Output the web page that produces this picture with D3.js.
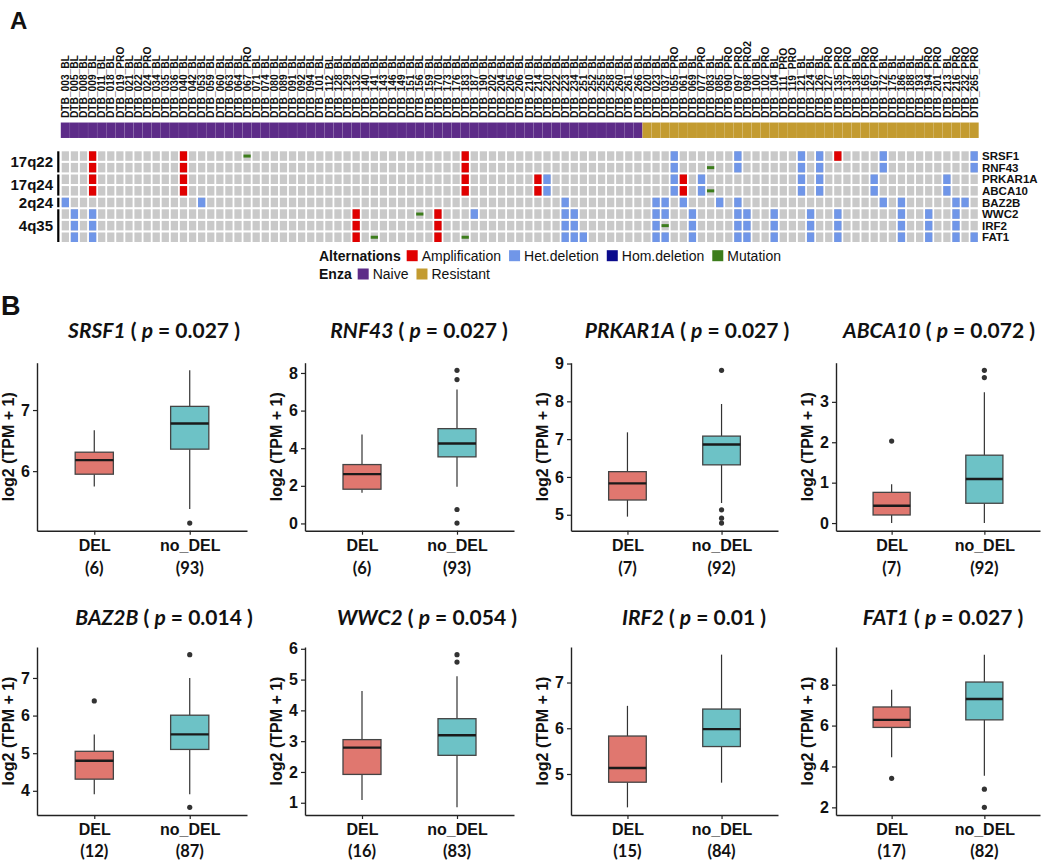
<!DOCTYPE html>
<html>
<head>
<meta charset="utf-8">
<script src="https://cdn.jsdelivr.net/npm/d3@7"></script>
<style>
  body { margin: 0; background: #fff; }
  svg text { font-family: "Liberation Sans", Arial, sans-serif; fill: #111; }
  .ttl, .cnt { font-family: Lato, "Open Sans", sans-serif !important; }
</style>
</head>
<body>
<svg id="fig" width="1050" height="860"></svg>
<script>
// ---- data: oncoprint ----
const naiveSamples = ['DTB_003_BL', 'DTB_005_BL', 'DTB_008_BL', 'DTB_009_BL', 'DTB_011_BL', 'DTB_018_BL', 'DTB_019_PRO',
  'DTB_021_BL', 'DTB_022_BL', 'DTB_024_PRO', 'DTB_034_BL', 'DTB_035_BL', 'DTB_036_BL', 'DTB_040_BL', 'DTB_042_BL',
  'DTB_053_BL', 'DTB_059_BL', 'DTB_060_BL', 'DTB_063_BL', 'DTB_064_BL', 'DTB_067_PRO', 'DTB_071_BL', 'DTB_074_BL',
  'DTB_080_BL', 'DTB_089_BL', 'DTB_091_BL', 'DTB_092_BL', 'DTB_094_BL', 'DTB_101_BL', 'DTB_112_BL', 'DTB_128_BL',
  'DTB_129_BL', 'DTB_132_BL', 'DTB_140_BL', 'DTB_141_BL', 'DTB_143_BL', 'DTB_146_BL', 'DTB_149_BL', 'DTB_151_BL',
  'DTB_156_BL', 'DTB_159_BL', 'DTB_170_BL', 'DTB_173_BL', 'DTB_176_BL', 'DTB_183_BL', 'DTB_187_BL', 'DTB_190_BL',
  'DTB_202_BL', 'DTB_204_BL', 'DTB_205_BL', 'DTB_206_BL', 'DTB_210_BL', 'DTB_214_BL', 'DTB_220_BL', 'DTB_222_BL',
  'DTB_223_BL', 'DTB_234_BL', 'DTB_251_BL', 'DTB_252_BL', 'DTB_255_BL', 'DTB_258_BL', 'DTB_260_BL', 'DTB_261_BL',
  'DTB_266_BL'];
const resistantSamples = ['DTB_020_BL', 'DTB_023_BL', 'DTB_037_BL', 'DTB_055_PRO', 'DTB_061_BL', 'DTB_069_BL',
  'DTB_077_PRO', 'DTB_083_BL', 'DTB_085_BL', 'DTB_090_PRO', 'DTB_097_PRO', 'DTB_098_PRO2', 'DTB_100_BL', 'DTB_102_PRO',
  'DTB_104_BL', 'DTB_111_PRO', 'DTB_119_PRO', 'DTB_121_BL', 'DTB_124_BL', 'DTB_126_BL', 'DTB_127_PRO', 'DTB_135_PRO',
  'DTB_137_PRO', 'DTB_138_BL', 'DTB_165_PRO', 'DTB_167_PRO', 'DTB_172_BL', 'DTB_175_BL', 'DTB_186_BL', 'DTB_188_BL',
  'DTB_193_BL', 'DTB_194_PRO', 'DTB_201_PRO', 'DTB_213_BL', 'DTB_216_PRO', 'DTB_232_PRO', 'DTB_265_PRO'];

const genes = ['SRSF1', 'RNF43', 'PRKAR1A', 'ABCA10', 'BAZ2B', 'WWC2', 'IRF2', 'FAT1'];
const cytobands = [
  ['17q22', ['SRSF1', 'RNF43']],
  ['17q24', ['PRKAR1A', 'ABCA10']],
  ['2q24', ['BAZ2B']],
  ['4q35', ['WWC2', 'IRF2', 'FAT1']],
];

const amplification = [
  ['DTB_009_BL', ['SRSF1', 'RNF43', 'PRKAR1A', 'ABCA10']],
  ['DTB_040_BL', ['SRSF1', 'RNF43', 'PRKAR1A', 'ABCA10']],
  ['DTB_183_BL', ['SRSF1', 'RNF43', 'PRKAR1A', 'ABCA10']],
  ['DTB_214_BL', ['PRKAR1A', 'ABCA10']],
  ['DTB_061_BL', ['PRKAR1A', 'ABCA10']],
  ['DTB_135_PRO', ['SRSF1']],
  ['DTB_132_BL', ['WWC2', 'IRF2', 'FAT1']],
  ['DTB_170_BL', ['WWC2', 'IRF2', 'FAT1']],
];
const hetDeletion = [
  ['DTB_003_BL', ['BAZ2B']],
  ['DTB_053_BL', ['BAZ2B']],
  ['DTB_005_BL', ['WWC2', 'IRF2', 'FAT1']],
  ['DTB_009_BL', ['WWC2', 'IRF2', 'FAT1']],
  ['DTB_187_BL', ['WWC2']],
  ['DTB_220_BL', ['PRKAR1A', 'ABCA10']],
  ['DTB_223_BL', ['BAZ2B', 'WWC2', 'IRF2', 'FAT1']],
  ['DTB_234_BL', ['WWC2', 'IRF2', 'FAT1']],
  ['DTB_251_BL', ['FAT1']],
  ['DTB_023_BL', ['BAZ2B', 'WWC2', 'IRF2', 'FAT1']],
  ['DTB_037_BL', ['BAZ2B', 'WWC2', 'FAT1']],
  ['DTB_055_PRO', ['SRSF1', 'RNF43', 'PRKAR1A', 'ABCA10']],
  ['DTB_061_BL', ['BAZ2B']],
  ['DTB_069_BL', ['WWC2', 'IRF2', 'FAT1']],
  ['DTB_077_PRO', ['PRKAR1A', 'ABCA10']],
  ['DTB_085_BL', ['BAZ2B']],
  ['DTB_097_PRO', ['SRSF1', 'RNF43', 'BAZ2B', 'WWC2', 'IRF2', 'FAT1']],
  ['DTB_098_PRO2', ['WWC2', 'IRF2', 'FAT1']],
  ['DTB_104_BL', ['WWC2', 'IRF2', 'FAT1']],
  ['DTB_121_BL', ['SRSF1', 'RNF43', 'PRKAR1A', 'ABCA10']],
  ['DTB_124_BL', ['WWC2', 'IRF2', 'FAT1']],
  ['DTB_126_BL', ['SRSF1', 'RNF43', 'PRKAR1A', 'ABCA10']],
  ['DTB_135_PRO', ['WWC2', 'IRF2', 'FAT1']],
  ['DTB_167_PRO', ['PRKAR1A', 'ABCA10']],
  ['DTB_172_BL', ['SRSF1', 'RNF43', 'BAZ2B']],
  ['DTB_186_BL', ['BAZ2B', 'WWC2', 'IRF2', 'FAT1']],
  ['DTB_194_PRO', ['WWC2', 'IRF2', 'FAT1']],
  ['DTB_213_BL', ['PRKAR1A', 'ABCA10']],
  ['DTB_216_PRO', ['BAZ2B', 'WWC2', 'IRF2', 'FAT1']],
  ['DTB_232_PRO', ['BAZ2B']],
  ['DTB_265_PRO', ['SRSF1', 'RNF43', 'FAT1']],
];
const homDeletion = [];
const mutation = [
  ['DTB_067_PRO', ['SRSF1']],
  ['DTB_141_BL', ['FAT1']],
  ['DTB_156_BL', ['WWC2']],
  ['DTB_183_BL', ['FAT1']],
  ['DTB_037_BL', ['IRF2']],
  ['DTB_083_BL', ['RNF43', 'ABCA10']],
];

// ---- data: boxplots (min whisker, q1, median, q3, max whisker) ----
const boxGenes = ['SRSF1', 'RNF43', 'PRKAR1A', 'ABCA10', 'BAZ2B', 'WWC2', 'IRF2', 'FAT1'];
const pValues = ['0.027', '0.027', '0.027', '0.072', '0.014', '0.054', '0.01', '0.027'];
const groups = ['DEL', 'no_DEL'];
const delCounts = [6, 6, 7, 7, 12, 16, 15, 17];
const noDelCounts = [93, 93, 92, 92, 87, 83, 84, 82];
const delStats = [
  [5.75, 5.95, 6.18, 6.31, 6.67],
  [1.63, 1.82, 2.62, 3.13, 4.73],
  [4.95, 5.39, 5.83, 6.14, 7.18],
  [0.0, 0.2, 0.43, 0.76, 0.96],
  [3.91, 4.31, 4.80, 5.05, 5.50],
  [1.09, 1.92, 2.79, 3.05, 4.63],
  [4.27, 4.82, 5.13, 5.83, 6.49],
  [4.45, 5.91, 6.28, 6.91, 7.75],
];
const noDelStats = [
  [5.38, 6.36, 6.78, 7.06, 7.65],
  [1.95, 3.54, 4.25, 5.04, 7.12],
  [5.31, 6.32, 6.86, 7.08, 7.93],
  [0.0, 0.49, 1.09, 1.68, 3.24],
  [3.91, 5.10, 5.50, 6.01, 7.00],
  [0.85, 2.54, 3.19, 3.73, 5.11],
  [4.81, 5.60, 5.98, 6.42, 7.61],
  [3.55, 6.28, 7.30, 8.13, 9.47],
];
const delOutliers = [[], [], [], [2.03], [6.39], [], [], [3.42]];
const noDelOutliers = [[5.15], [8.14, 7.65, 0.74, 0.02], [8.82, 5.13, 4.91, 4.78], [3.78, 3.60],
  [7.62, 3.56], [5.81, 5.57], [], [2.89, 2.0]];
const yTicks = [[6, 7], [0, 2, 4, 6, 8], [5, 6, 7, 8, 9], [0, 1, 2, 3], [4, 5, 6, 7], [1, 2, 3, 4, 5, 6],
  [5, 6, 7], [2, 4, 6, 8]];

// ---- colours ----
const altColor = { amp: '#e00000', het: '#7096e8', hom: '#0a0a8c', mut: '#3d7d1c' };
const enzaColor = { Naive: '#5d2c88', Resistant: '#c39b30' };
const groupColor = { DEL: '#e0776f', no_DEL: '#6dc2c6' };

const svg = d3.select('#fig');
const samples = naiveSamples.concat(resistantSamples);

// ================= panel A =================
svg.append('text').attr('x', 10).attr('y', 29).text('A')
  .style('font-size', '24px').style('font-weight', 'bold');

const x = d3.scaleBand().domain(samples).range([61.7, 977.8]).paddingInner(0.2);
const y = d3.scaleBand().domain(genes).range([151.3, 242]).paddingInner(0.18);

// sample labels
svg.append('g').selectAll('text')
  .data(samples)
  .join('text')
  .attr('transform', (d) => `translate(${x(d) + x.bandwidth() / 2},118) rotate(-90)`)
  .attr('dy', '0.36em')
  .style('font-size', '10.2px')
  .style('font-weight', 'bold')
  .text((d) => d);

// Enza bar
svg.append('g').selectAll('rect')
  .data(samples)
  .join('rect')
  .attr('x', (d) => x(d) - x.step() * 0.1)
  .attr('y', 122.5)
  .attr('width', x.step())
  .attr('height', 15.5)
  .attr('fill', (d) => (naiveSamples.includes(d) ? enzaColor.Naive : enzaColor.Resistant))
  .attr('stroke', 'rgba(255,255,255,0.08)')
  .attr('stroke-width', 0.6);

// background cells
const cells = [];
genes.forEach((g) => samples.forEach((s) => cells.push({ g, s })));
const grid = svg.append('g');
grid.selectAll('rect.bg')
  .data(cells)
  .join('rect')
  .attr('class', 'bg')
  .attr('x', (d) => x(d.s))
  .attr('y', (d) => y(d.g))
  .attr('width', x.bandwidth())
  .attr('height', y.bandwidth())
  .attr('fill', '#c9c9c9');

function flatten(list, type) {
  const out = [];
  list.forEach(([s, gs]) => gs.forEach((g) => out.push({ s, g, type })));
  return out;
}
const fullAlts = flatten(amplification, 'amp').concat(flatten(hetDeletion, 'het'), flatten(homDeletion, 'hom'));
grid.selectAll('rect.alt')
  .data(fullAlts)
  .join('rect')
  .attr('class', 'alt')
  .attr('x', (d) => x(d.s))
  .attr('y', (d) => y(d.g))
  .attr('width', x.bandwidth())
  .attr('height', y.bandwidth())
  .attr('fill', (d) => altColor[d.type]);

grid.selectAll('rect.mut')
  .data(flatten(mutation, 'mut'))
  .join('rect')
  .attr('class', 'mut')
  .attr('x', (d) => x(d.s))
  .attr('y', (d) => y(d.g) + y.bandwidth() / 2 - 1.5)
  .attr('width', x.bandwidth())
  .attr('height', 3)
  .attr('fill', altColor.mut);

// gene names at right
svg.append('g').selectAll('text')
  .data(genes)
  .join('text')
  .attr('x', 982)
  .attr('y', (d) => y(d) + y.bandwidth() / 2)
  .attr('dy', '0.36em')
  .style('font-size', '11.5px')
  .style('font-weight', 'bold')
  .text((d) => d);

// cytoband labels and bars
const bandG = svg.append('g');
cytobands.forEach(([band, gs]) => {
  const top = y(gs[0]);
  const bottom = y(gs[gs.length - 1]) + y.bandwidth();
  bandG.append('rect').attr('x', 57.2).attr('y', top).attr('width', 2.2)
    .attr('height', bottom - top).attr('fill', '#000');
  bandG.append('text').attr('x', 53).attr('y', (top + bottom) / 2).attr('dy', '0.36em')
    .attr('text-anchor', 'end').style('font-size', '15px').style('font-weight', 'bold').text(band);
});

// legend
function legendRow(yc, title, items) {
  const g = svg.append('g');
  const t = g.append('text').attr('x', 319).attr('y', yc).attr('dy', '0.36em')
    .style('font-size', '14px').style('font-weight', 'bold').text(title);
  let cx = 319 + t.node().getComputedTextLength() + 6;
  items.forEach(([label, color]) => {
    g.append('rect').attr('x', cx).attr('y', yc - 5.5).attr('width', 11).attr('height', 11).attr('fill', color);
    const lt = g.append('text').attr('x', cx + 15).attr('y', yc).attr('dy', '0.36em')
      .style('font-size', '14px').text(label);
    cx += 15 + lt.node().getComputedTextLength() + 8;
  });
}
legendRow(255.7, 'Alternations', [['Amplification', altColor.amp], ['Het.deletion', altColor.het],
  ['Hom.deletion', altColor.hom], ['Mutation', altColor.mut]]);
legendRow(274, 'Enza', [['Naive', enzaColor.Naive], ['Resistant', enzaColor.Resistant]]);

// ================= panel B =================
svg.append('text').attr('x', 1).attr('y', 315).text('B')
  .style('font-size', '27px').style('font-weight', 'bold');

const colLeft = [37, 305, 571, 836];
const colRight = [247, 514, 778, 1040];
const rowTop = [362.7, 647];
const rowBottom = [530.7, 815];
const titleX = [154, 419, 687, 939, 164, 427, 694, 943];
const titleY = [338, 625];
const countGap = [43.5, 41.5];

boxGenes.forEach((gene, i) => {
  const r = Math.floor(i / 4);
  const c = i % 4;
  const left = colLeft[c];
  const right = colRight[c];
  const top = rowTop[r];
  const bottom = rowBottom[r];
  const g = svg.append('g');

  const all = delStats[i].concat(noDelStats[i], delOutliers[i], noDelOutliers[i]);
  const [lo, hi] = d3.extent(all);
  const pad = (hi - lo) * 0.05;
  const ys = d3.scaleLinear().domain([lo - pad, hi + pad]).range([bottom, top]);
  const xs = d3.scalePoint().domain(groups).range([left, right]).padding(0.6);
  const bw = xs.step() * 0.4;

  // title
  const t = g.append('text').attr('class', 'ttl').attr('x', titleX[i]).attr('y', titleY[r])
    .attr('text-anchor', 'middle').style('font-size', '21px').style('font-weight', 'bold');
  t.append('tspan').style('font-style', 'italic').text(gene);
  t.append('tspan').text(' ( ');
  t.append('tspan').style('font-style', 'italic').text('p');
  t.append('tspan').text(` = ${pValues[i]} )`);

  // axes
  const ya = g.append('g').attr('transform', `translate(${left},0)`)
    .call(d3.axisLeft(ys).tickValues(yTicks[i]).tickFormat(d3.format('d'))
      .tickSize(4).tickSizeOuter(0).tickPadding(3));
  const xa = g.append('g').attr('transform', `translate(0,${bottom})`)
    .call(d3.axisBottom(xs).tickSize(4).tickSizeOuter(0).tickPadding(4));
  [ya, xa].forEach((a) => {
    a.select('.domain').attr('stroke', '#222').attr('stroke-width', 1.4);
    a.selectAll('.tick line').attr('stroke', '#222').attr('stroke-width', 1.2);
    a.selectAll('.tick text').style('font-size', '16px').style('font-weight', 'bold')
      .style('font-family', '"Liberation Sans", Arial, sans-serif').attr('fill', '#111');
  });
  xa.selectAll('.tick text').attr('dy', '0.78em');

  // counts under group labels
  const counts = [delCounts[i], noDelCounts[i]];
  groups.forEach((grp, k) => {
    g.append('text').attr('class', 'cnt').attr('x', xs(grp)).attr('y', bottom + countGap[r])
      .attr('text-anchor', 'middle').style('font-size', '16.5px').style('font-weight', 'bold')
      .text(`(${counts[k]})`);
  });

  // y axis title
  g.append('text')
    .attr('transform', `translate(${left - 29},${(top + bottom) / 2}) rotate(-90)`)
    .attr('text-anchor', 'middle').attr('dy', '0.36em')
    .style('font-size', '16px').style('font-weight', 'bold').text('log2 (TPM + 1)');

  // boxes
  const stats = [delStats[i], noDelStats[i]];
  const outs = [delOutliers[i], noDelOutliers[i]];
  groups.forEach((grp, k) => {
    const [mn, q1, md, q3, mx] = stats[k];
    const cx = xs(grp);
    g.append('line').attr('x1', cx).attr('x2', cx).attr('y1', ys(mx)).attr('y2', ys(q3))
      .attr('stroke', '#333').attr('stroke-width', 1.2);
    g.append('line').attr('x1', cx).attr('x2', cx).attr('y1', ys(q1)).attr('y2', ys(mn))
      .attr('stroke', '#333').attr('stroke-width', 1.2);
    g.append('rect').attr('x', cx - bw / 2).attr('y', ys(q3)).attr('width', bw)
      .attr('height', ys(q1) - ys(q3)).attr('fill', groupColor[grp])
      .attr('stroke', '#444').attr('stroke-width', 1.3);
    g.append('line').attr('x1', cx - bw / 2).attr('x2', cx + bw / 2).attr('y1', ys(md)).attr('y2', ys(md))
      .attr('stroke', '#1a1a1a').attr('stroke-width', 2.4);
    g.selectAll(null).data(outs[k]).join('circle')
      .attr('cx', cx).attr('cy', (d) => ys(d)).attr('r', 2.6).attr('fill', '#333');
  });
});
</script>
</body>
</html>
